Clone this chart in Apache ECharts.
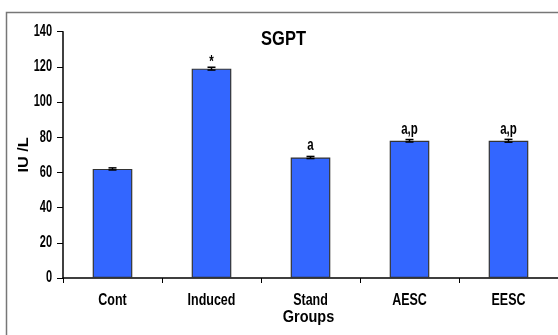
<!DOCTYPE html>
<html>
<head>
<meta charset="utf-8">
<script src="https://cdn.jsdelivr.net/npm/echarts@6/dist/echarts.min.js"></script>
<style>
  html, body { margin: 0; padding: 0; background: #fff; }
  #chart { width: 558px; height: 335px; }
</style>
</head>
<body>
<div id="chart"></div>
<script>
// SGPT level per group (IU/L)
const groups = ['Cont', 'Induced', 'Stand', 'AESC', 'EESC'];
const sgpt = [62, 119, 68.5, 78, 78];
const sgptErr = [0.6, 0.8, 0.6, 0.7, 0.8];
const marks = ['', '*', 'a', 'a,p', 'a,p'];
const yTickValues = [0, 20, 40, 60, 80, 100, 120, 140];
const yTicks = { min: 0, max: 140, interval: 20 };

const font = '"Liberation Sans", Arial, sans-serif';
const chart = echarts.init(document.getElementById('chart'));

chart.setOption({
  animation: false,
  backgroundColor: '#fff',
  grid: { left: 63, right: 0, top: 31.7, bottom: 57, outerBoundsMode: 'none' },
  xAxis: {
    type: 'category',
    data: groups,
    axisLine: { lineStyle: { color: '#000', width: 1.5 } },
    axisTick: { show: true, length: 5, lineStyle: { color: '#000' } },
    axisLabel: { show: false }
  },
  yAxis: {
    type: 'value',
    min: yTicks.min,
    max: yTicks.max,
    interval: yTicks.interval,
    splitLine: { show: false },
    axisLine: { show: true, lineStyle: { color: '#000', width: 1.5 } },
    axisTick: { show: true, length: 6, lineStyle: { color: '#000' } },
    axisLabel: { show: false }
  },
  series: [
    {
      type: 'bar',
      data: sgpt,
      barWidth: '40%',
      itemStyle: { color: '#3366FF', borderColor: '#333', borderWidth: 1.2 },
      z: 2
    },
    {
      type: 'custom',
      data: sgpt.map((v, i) => [i, v - sgptErr[i], v + sgptErr[i]]),
      z: 5,
      renderItem: (params, api) => {
        const lo = api.coord([api.value(0), api.value(1)]);
        const hi = api.coord([api.value(0), api.value(2)]);
        const half = 4;
        const st = { stroke: '#000', lineWidth: 1.5 };
        return {
          type: 'group',
          children: [
            { type: 'line', shape: { x1: lo[0], y1: lo[1], x2: hi[0], y2: hi[1] }, style: st },
            { type: 'line', shape: { x1: lo[0] - half, y1: lo[1], x2: lo[0] + half, y2: lo[1] }, style: st },
            { type: 'line', shape: { x1: hi[0] - half, y1: hi[1], x2: hi[0] + half, y2: hi[1] }, style: st }
          ]
        };
      }
    }
  ]
});

// Tall, tightly set bold lettering: text is placed at axis positions and stretched vertically.
function label(text, x, y, size, align, scaleY, extra) {
  return Object.assign({
    type: 'text',
    x: x,
    y: y,
    scaleY: scaleY,
    silent: true,
    z: 10,
    style: {
      text: text,
      fontFamily: font,
      fontWeight: 'bold',
      fontSize: size,
      fill: '#000',
      align: align,
      verticalAlign: 'middle',
      textAlign: align,
      textVerticalAlign: 'middle'
    }
  }, extra || {});
}

const texts = [];
// frame
texts.push({
  type: 'polyline',
  shape: { points: [[6.5, 335], [6.5, 12.5], [558, 12.5]] },
  style: { stroke: '#777', lineWidth: 1.5, fill: null },
  silent: true
});
// title
texts.push(label('SGPT', 283.5, 39.5, 16.5, 'center', 1.18));
// y tick labels
yTickValues.forEach(v => {
  const y = chart.convertToPixel({ yAxisIndex: 0 }, v);
  texts.push(label(String(v), 52, y, 11, 'right', 1.45));
});
// category labels
const axisY = chart.convertToPixel({ yAxisIndex: 0 }, 0);
groups.forEach((g, i) => {
  const x = chart.convertToPixel({ xAxisIndex: 0 }, i);
  texts.push(label(g, x, axisY + 23, 12.5, 'center', 1.3));
});
// axis names
const midX = chart.convertToPixel({ xAxisIndex: 0 }, 2);
texts.push(label('Groups', midX - 2, axisY + 39, 14.5, 'center', 1.2));
texts.push(label('IU /L', 24, 155, 14.5, 'center', 1, { scaleX: 1.12, rotation: Math.PI / 2 }));
// significance marks above bars
sgpt.forEach((v, i) => {
  if (!marks[i]) return;
  const p = chart.convertToPixel({ gridIndex: 0 }, [i, v]);
  const dy = marks[i] === '*' ? 6.5 : 11.5;
  texts.push(label(marks[i], p[0], p[1] - dy, 11.5, 'center', 1.4));
});

chart.setOption({ graphic: texts });
</script>
</body>
</html>
